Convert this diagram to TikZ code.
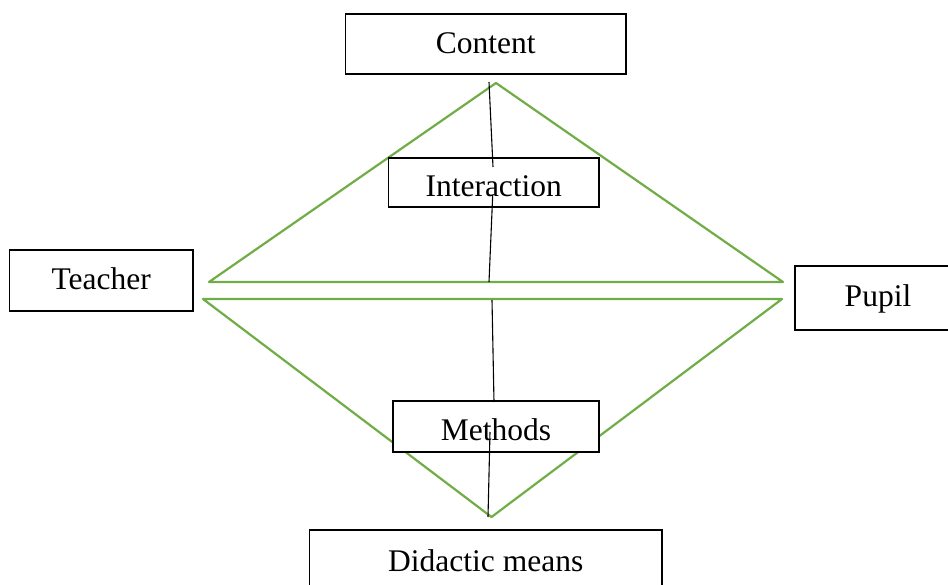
\documentclass[tikz,border=0pt]{standalone}
\usepackage{fontspec}
\setmainfont{Liberation Serif}
\definecolor{trigreen}{RGB}{112,173,71}
\begin{document}
\begin{tikzpicture}[x=1pt,y=-1pt,
  box/.style={draw=black, line width=1.2pt, fill=white, inner sep=0pt, anchor=base,
              font=\fontsize{31.5}{36}\selectfont},
  tri/.style={draw=trigreen, line width=2.2pt, line join=round},
  link/.style={draw=black, line width=1.1pt}]
\useasboundingbox (0,0) rectangle (948,585);
\clip (0,0) rectangle (948,585);
% green triangles
\draw[tri] (209,282) -- (783,282) -- (496,83) -- cycle;
\draw[tri] (203,299) -- (782,299) -- (491.5,517) -- cycle;
% boxes
\node[box, minimum width=280.5pt, text height=40pt, text depth=20pt] (content) at (485.75,54) {Content};
\node[box, minimum width=210.5pt, text height=39pt, text depth=10pt] (interaction) at (493.75,197) {Interaction};
\node[box, minimum width=183.5pt, text height=40pt, text depth=21pt] (teacher) at (101.25,290) {Teacher};
\node[box, minimum width=166pt, text height=41pt, text depth=23pt] (pupil) at (878,307) {Pupil};
\node[box, minimum width=206pt, text height=39pt, text depth=12pt] (methods) at (496,440) {Methods};
\node[box, minimum width=352.5pt, text height=41pt, text depth=30pt] (didactic) at (485.75,571) {Didactic means};
% black line segments
\coordinate (a1) at (489,82);
\coordinate (a2) at (493,167);
\coordinate (b1) at (492.7,195);
\coordinate (b2) at (489,282);
\coordinate (c1) at (492,300);
\coordinate (c2) at (494,402);
\coordinate (d1) at (490,432);
\coordinate (d2) at (488,517);
\draw[link] (a1) -- (a2);
\draw[link] (b1) -- (b2);
\draw[link] (c1) -- (c2);
\draw[link] (d1) -- (d2);
\end{tikzpicture}
\end{document}
